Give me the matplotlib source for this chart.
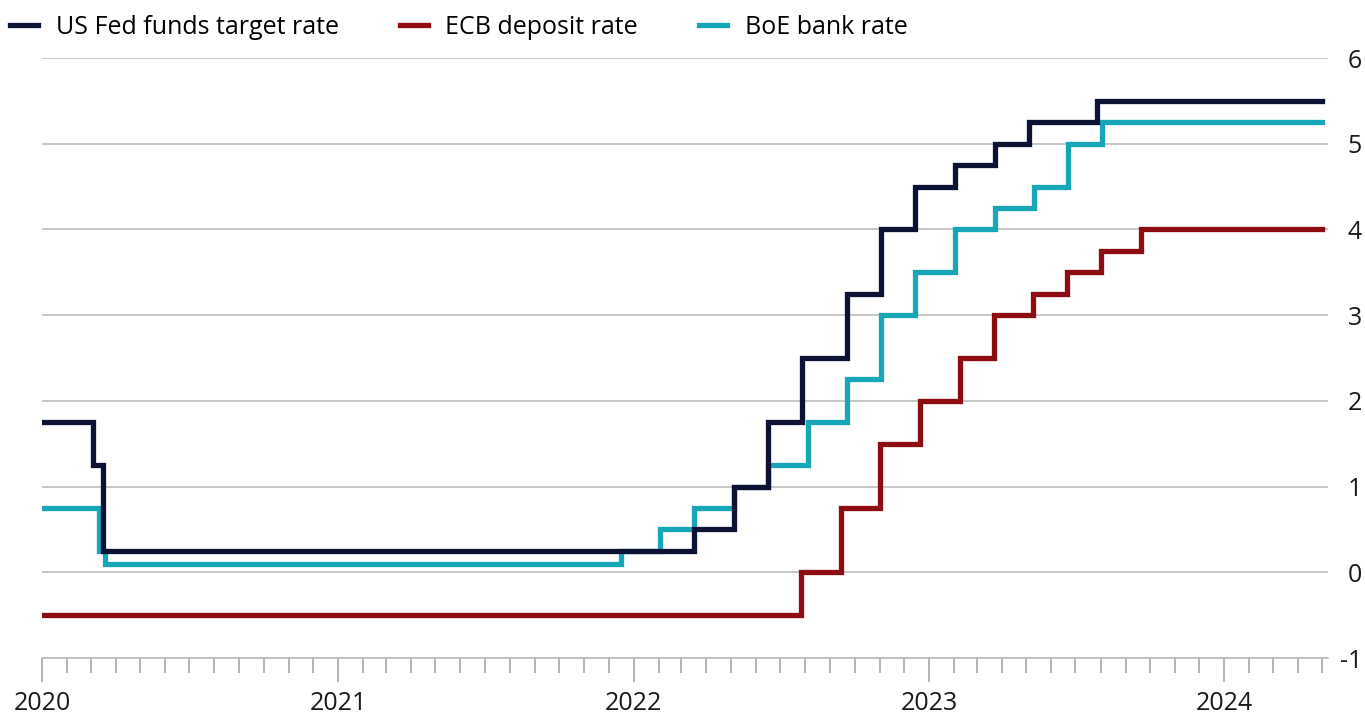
import matplotlib
matplotlib.use("Agg")
import matplotlib.pyplot as plt
import matplotlib.dates as mdates
import pandas as pd
from matplotlib.lines import Line2D

# ---- data ----
fed_dates = ["2020-01-01", "2020-03-04", "2020-03-16", "2022-03-17", "2022-05-05",
             "2022-06-16", "2022-07-28", "2022-09-22", "2022-11-03", "2022-12-15",
             "2023-02-02", "2023-03-23", "2023-05-04", "2023-07-27"]
fed_rates = [1.75, 1.25, 0.25, 0.5, 1.0, 1.75, 2.5, 3.25, 4.0, 4.5, 4.75, 5.0, 5.25, 5.5]

ecb_dates = ["2020-01-01", "2022-07-27", "2022-09-14", "2022-11-02", "2022-12-21",
             "2023-02-08", "2023-03-22", "2023-05-10", "2023-06-21", "2023-08-02",
             "2023-09-20"]
ecb_rates = [-0.5, 0.0, 0.75, 1.5, 2.0, 2.5, 3.0, 3.25, 3.5, 3.75, 4.0]

boe_dates = ["2020-01-01", "2020-03-11", "2020-03-19", "2021-12-16", "2022-02-03",
             "2022-03-17", "2022-05-05", "2022-06-16", "2022-08-04", "2022-09-22",
             "2022-11-03", "2022-12-15", "2023-02-02", "2023-03-23", "2023-05-11",
             "2023-06-22", "2023-08-03"]
boe_rates = [0.75, 0.25, 0.1, 0.25, 0.5, 0.75, 1.0, 1.25, 1.75, 2.25, 3.0, 3.5,
             4.0, 4.25, 4.5, 5.0, 5.25]

end_date = "2024-04-30"
x_start, x_end = "2020-01-01", "2024-05-08"
y_ticks = [-1, 0, 1, 2, 3, 4, 5, 6]
labels = ["US Fed funds target rate", "ECB deposit rate", "BoE bank rate"]
colors = ["#0c1233", "#8c0c12", "#17a6b8"]

FONT = "Open Sans"
plt.rcParams["font.family"] = [FONT, "DejaVu Sans"]
FS = 18

fig = plt.figure(figsize=(13.65, 7.16), dpi=100)
ax = fig.add_axes([42 / 1365, 1 - 658 / 716, (1328 - 42) / 1365, (658 - 58) / 716])


def series(dates, vals):
    d = pd.to_datetime(dates + [end_date])
    v = vals + [vals[-1]]
    return d, v


for (dates, vals), col, z in zip(
        [(ecb_dates, ecb_rates), (boe_dates, boe_rates), (fed_dates, fed_rates)],
        [colors[1], colors[2], colors[0]], [3, 4, 5]):
    d, v = series(dates, vals)
    ax.step(d, v, where="post", color=col, lw=3.8, zorder=z, solid_joinstyle="miter")

ax.set_xlim(pd.Timestamp(x_start), pd.Timestamp(x_end))
ax.set_ylim(-1, 6)
ax.set_yticks(y_ticks)
ax.set_yticklabels([str(t) for t in y_ticks])
ax.yaxis.tick_right()
ax.tick_params(axis="y", length=0, pad=24.5, labelsize=FS, labelcolor="#1a1a1a")
for t in ax.get_yticklabels():
    t.set_horizontalalignment("right")
ax.grid(axis="y", color="#bdbdbd", lw=1.2, zorder=0)

ax.xaxis.set_major_locator(mdates.YearLocator())
ax.xaxis.set_major_formatter(mdates.DateFormatter("%Y"))
ax.xaxis.set_minor_locator(mdates.MonthLocator())
ax.tick_params(axis="x", which="major", length=17, width=1.1, color="#a0a0a0",
               pad=7, labelsize=FS, labelcolor="#1a1a1a")
ax.tick_params(axis="x", which="minor", length=11, width=1.1, color="#a0a0a0")

for s in ["top", "left", "right"]:
    ax.spines[s].set_visible(False)
ax.spines["bottom"].set_color("#bdbdbd")
ax.spines["bottom"].set_linewidth(1.2)

handles = [Line2D([], [], color=c, lw=3.8) for c in colors]
fig.legend(handles, labels, loc="upper left", bbox_to_anchor=(10 / 1365, 1 - 15 / 716),
           ncol=3, frameon=False, fontsize=FS, handlelength=1.12,
           handletextpad=0.7, columnspacing=2.45, borderaxespad=0, borderpad=0)

fig.savefig("out.png", dpi=100, facecolor="white")
